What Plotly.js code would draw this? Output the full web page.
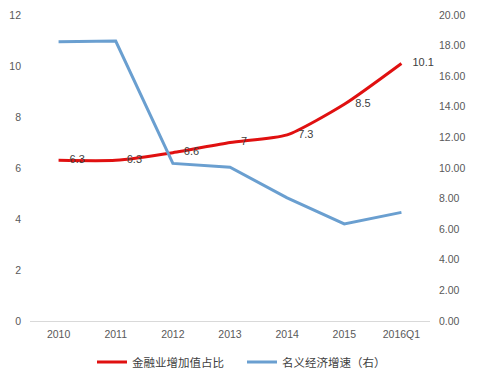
<!DOCTYPE html>
<html><head><meta charset="utf-8">
<script src="https://cdn.plot.ly/plotly-3.0.1.min.js"></script>
<style>html,body{margin:0;padding:0;background:#fff}#chart{width:478px;height:378px}</style>
</head><body><div id="chart"></div>
<script>
const categories = ["2010","2011","2012","2013","2014","2015","2016Q1"];
const financeShare = [6.3, 6.3, 6.6, 7, 7.3, 8.5, 10.1];
const nominalGrowth = [18.25, 18.3, 10.3, 10.05, 8.05, 6.35, 7.1];
const financeLabels = ["6.3","6.3","6.6","7","7.3","8.5","10.1"];
const seriesNames = ["金融业增加值占比", "名义经济增速（右）"];

const tickFont = {family: "Liberation Sans, Arial, sans-serif", size: 10.5, color: "#595959"};

const traces = [
  {
    x: categories, y: financeShare, name: seriesNames[0], type: "scatter",
    mode: "lines+text", text: financeLabels.map(t => "\u2002\u2002" + t), textposition: "middle right",
    textfont: {family: "Liberation Sans, Arial, sans-serif", size: 11, color: "#404040"},
    line: {color: "#e01010", width: 3, shape: "spline", smoothing: 0.6},
    yaxis: "y", cliponaxis: false
  },
  {
    x: categories, y: nominalGrowth, name: seriesNames[1], type: "scatter",
    mode: "lines", line: {color: "#6a9fd0", width: 3},
    yaxis: "y2"
  }
];

const layout = {
  width: 478, height: 378,
  margin: {l: 30, r: 48, t: 15, b: 57, autoexpand: false},
  paper_bgcolor: "#ffffff", plot_bgcolor: "#ffffff",
  showlegend: true,
  legend: {
    orientation: "h", xref: "container", yref: "container",
    x: 92 / 478, xanchor: "left", y: 16 / 378, yanchor: "middle",
    font: {family: "Noto Sans CJK SC, sans-serif", size: 11.5, color: "#404040"},
    itemwidth: 30, traceorder: "normal", entrywidth: 105, entrywidthmode: "pixels"
  },
  xaxis: {
    type: "category", range: [-0.5, 6.5], showgrid: false, zeroline: false,
    showline: true, linecolor: "#d9d9d9", linewidth: 1,
    ticks: "", tickfont: tickFont, fixedrange: true, ticklabelstandoff: 3
  },
  yaxis: {
    range: [0, 12], dtick: 2, showgrid: false, zeroline: false, showline: false,
    ticks: "", tickfont: tickFont, ticklabelstandoff: 8
  },
  yaxis2: {
    range: [0, 20], dtick: 2, overlaying: "y", side: "right", showgrid: false,
    zeroline: false, showline: false, ticks: "", tickformat: ".2f",
    tickfont: tickFont, ticklabelstandoff: 8
  }
};

Plotly.newPlot("chart", traces, layout, {displayModeBar: false, staticPlot: true});
</script>
</body></html>
